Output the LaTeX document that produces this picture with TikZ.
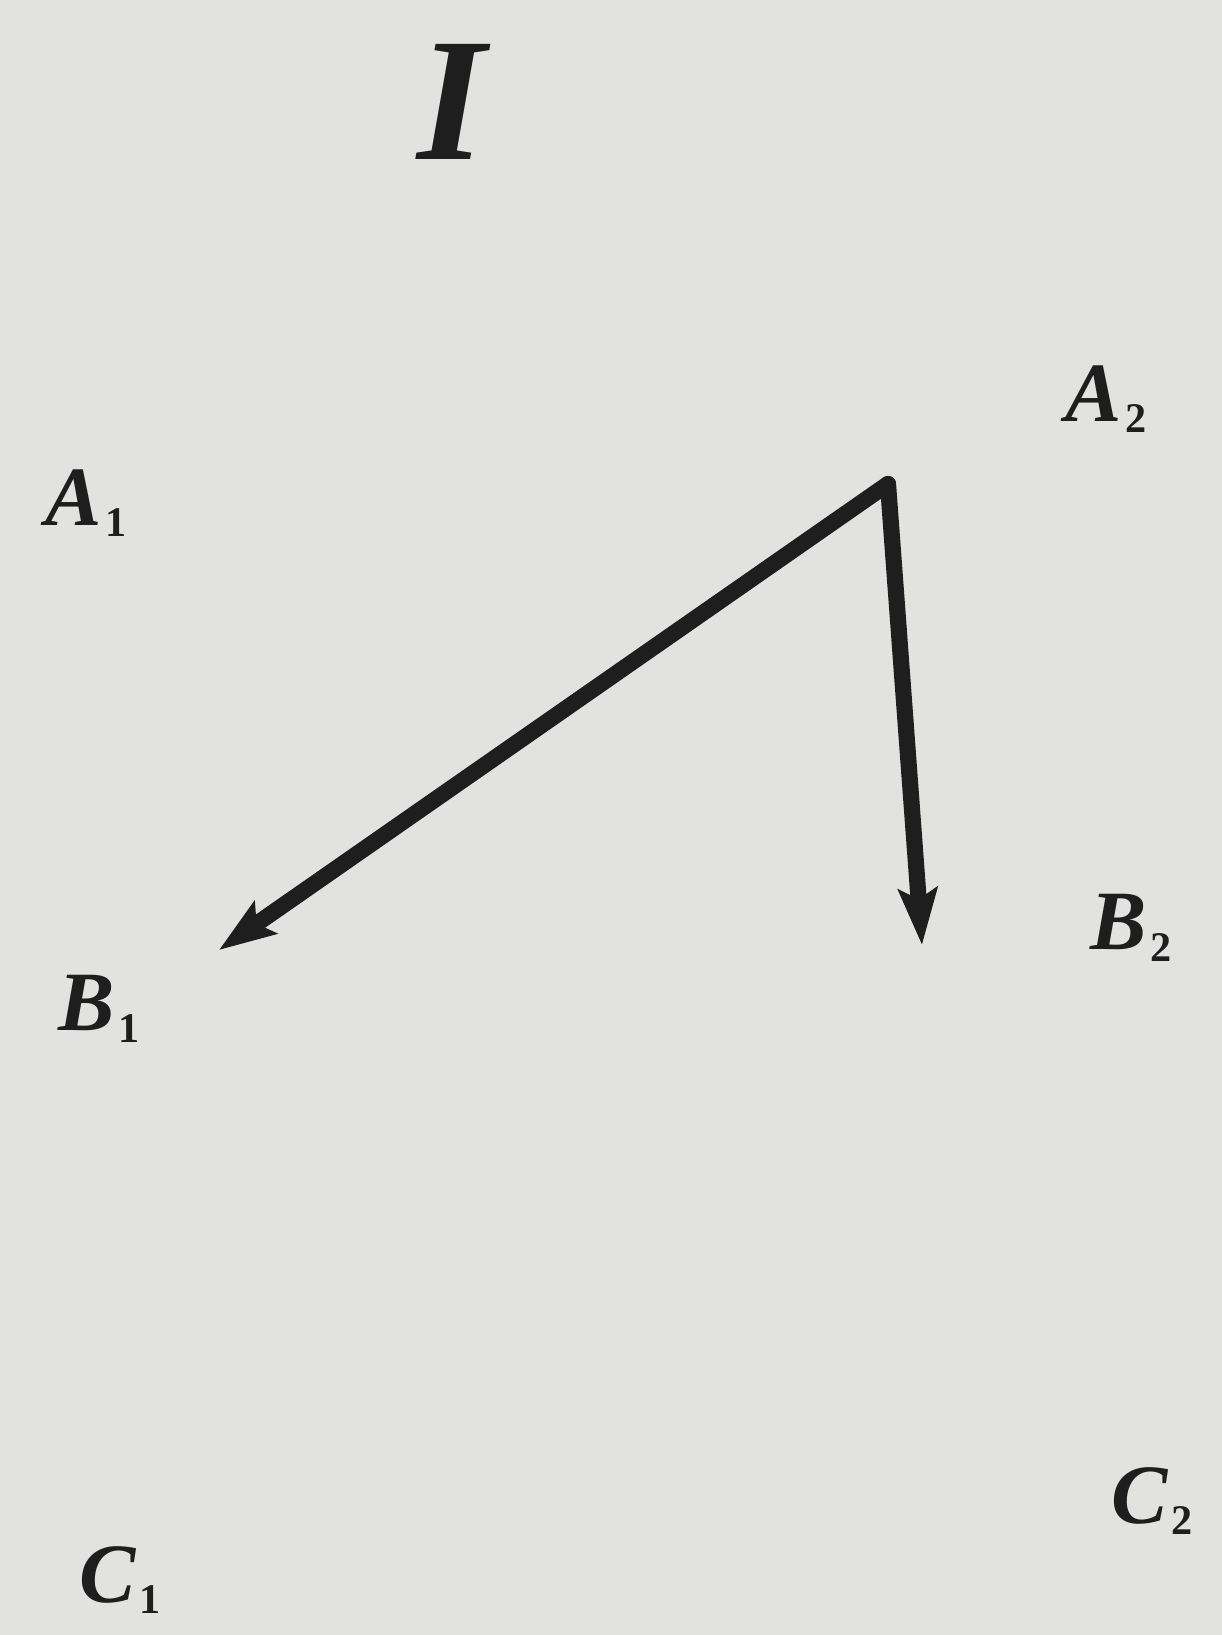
\documentclass[tikz,border=0pt]{standalone}
\usepackage{fontspec}
\setmainfont{Liberation Serif}
\usetikzlibrary{arrows.meta}
\definecolor{paper}{RGB}{226,226,224}
\definecolor{ink}{RGB}{30,30,30}
\newcommand{\pt}[2]{{\bfseries\itshape #1}\kern1pt\raisebox{-0.3ex}{\fontsize{12}{12}\selectfont\bfseries\upshape #2}}
\tikzset{
	lbl/.style={inner sep=0pt, text=ink, font=\fontsize{24}{28}\selectfont},
	vec/.style={line width=4.6pt, draw=ink, line cap=round, -{Stealth[length=16pt,width=11pt,inset=3pt]}}
}

\begin{document}
\begin{tikzpicture}[x=0.01cm,y=-0.01cm]
	\fill[paper] (0,0) rectangle (1222,1635);
	\useasboundingbox (0,0) rectangle (1222,1635);

	\node[inner sep=0pt, text=ink, font=\fontsize{50}{56}\selectfont\bfseries\itshape] (title) at (452,102) {I};

	\node[lbl] (a1) at (86,503) {\pt{A}{1}};
	\node[lbl] (a2) at (1106,399) {\pt{A}{2}};
	\node[lbl] (b1) at (99,1009) {\pt{B}{1}};
	\node[lbl] (b2) at (1131,928) {\pt{B}{2}};
	\node[lbl] (c1) at (120,1580) {\pt{C}{1}};
	\node[lbl] (c2) at (1152,1501) {\pt{C}{2}};

	\coordinate (top) at (888,484);
	\coordinate (tipL) at (219,950);
	\coordinate (tipR) at (922,945);

	\draw[vec] (top) -- (tipL);
	\draw[vec] (top) -- (tipR);
\end{tikzpicture}
\end{document}
